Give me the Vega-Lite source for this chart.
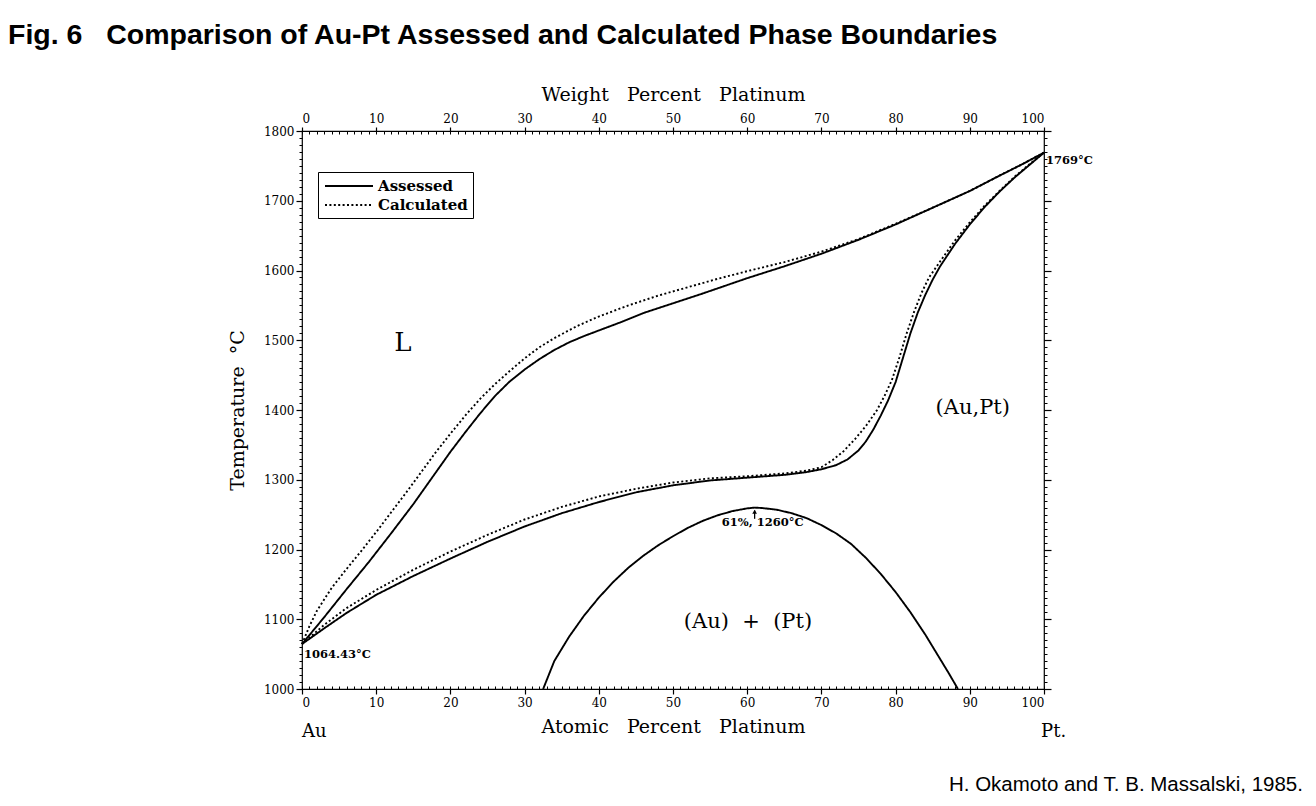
{
  "$schema": "https://vega.github.io/schema/vega-lite/v6.json",
  "width": 742,
  "height": 558,
  "autosize": {"type": "none"},
  "padding": {"left": 302, "top": 131, "right": 272, "bottom": 117},
  "background": "white",
  "config": {
    "view": {"stroke": "black", "strokeWidth": 1.2},
    "font": "DejaVu Serif",
    "axis": {
      "domain": false,
      "grid": false,
      "tickColor": "black",
      "labelColor": "black",
      "titleColor": "black",
      "labelFont": "DejaVu Serif",
      "titleFont": "DejaVu Serif",
      "labelFontSize": 12,
      "titleFontSize": 19,
      "titleFontWeight": "normal"
    }
  },
  "title": {
    "text": "Fig. 6\u00a0\u00a0\u00a0Comparison of Au-Pt Assessed and Calculated Phase Boundaries",
    "anchor": "start",
    "frame": "group",
    "font": "Liberation Sans",
    "fontSize": 28.5,
    "fontWeight": "bold",
    "color": "black",
    "dx": -294,
    "offset": 36
  },
  "resolve": {"axis": {"x": "independent", "y": "independent"}},
  "layer": [
    {
      "data": {
        "values": [
          {"curve": "liquidus-a", "method": "Assessed", "pct": 0, "temp": 1064.43},
          {"curve": "liquidus-a", "method": "Assessed", "pct": 3, "temp": 1103},
          {"curve": "liquidus-a", "method": "Assessed", "pct": 6, "temp": 1143},
          {"curve": "liquidus-a", "method": "Assessed", "pct": 9, "temp": 1182},
          {"curve": "liquidus-a", "method": "Assessed", "pct": 12, "temp": 1223},
          {"curve": "liquidus-a", "method": "Assessed", "pct": 15, "temp": 1265},
          {"curve": "liquidus-a", "method": "Assessed", "pct": 18, "temp": 1310},
          {"curve": "liquidus-a", "method": "Assessed", "pct": 20, "temp": 1340},
          {"curve": "liquidus-a", "method": "Assessed", "pct": 22, "temp": 1368},
          {"curve": "liquidus-a", "method": "Assessed", "pct": 24, "temp": 1395},
          {"curve": "liquidus-a", "method": "Assessed", "pct": 26, "temp": 1420},
          {"curve": "liquidus-a", "method": "Assessed", "pct": 28, "temp": 1441},
          {"curve": "liquidus-a", "method": "Assessed", "pct": 30, "temp": 1458},
          {"curve": "liquidus-a", "method": "Assessed", "pct": 32, "temp": 1473},
          {"curve": "liquidus-a", "method": "Assessed", "pct": 34, "temp": 1486},
          {"curve": "liquidus-a", "method": "Assessed", "pct": 36, "temp": 1497},
          {"curve": "liquidus-a", "method": "Assessed", "pct": 38, "temp": 1506},
          {"curve": "liquidus-a", "method": "Assessed", "pct": 40, "temp": 1514},
          {"curve": "liquidus-a", "method": "Assessed", "pct": 43, "temp": 1526},
          {"curve": "liquidus-a", "method": "Assessed", "pct": 46, "temp": 1539},
          {"curve": "liquidus-a", "method": "Assessed", "pct": 50, "temp": 1553},
          {"curve": "liquidus-a", "method": "Assessed", "pct": 54, "temp": 1567},
          {"curve": "liquidus-a", "method": "Assessed", "pct": 57, "temp": 1578},
          {"curve": "liquidus-a", "method": "Assessed", "pct": 60, "temp": 1589},
          {"curve": "liquidus-a", "method": "Assessed", "pct": 65, "temp": 1606},
          {"curve": "liquidus-a", "method": "Assessed", "pct": 70, "temp": 1624},
          {"curve": "liquidus-a", "method": "Assessed", "pct": 75, "temp": 1644},
          {"curve": "liquidus-a", "method": "Assessed", "pct": 80, "temp": 1666},
          {"curve": "liquidus-a", "method": "Assessed", "pct": 85, "temp": 1690},
          {"curve": "liquidus-a", "method": "Assessed", "pct": 90, "temp": 1714},
          {"curve": "liquidus-a", "method": "Assessed", "pct": 94, "temp": 1736},
          {"curve": "liquidus-a", "method": "Assessed", "pct": 97, "temp": 1752},
          {"curve": "liquidus-a", "method": "Assessed", "pct": 100, "temp": 1769},

          {"curve": "liquidus-c", "method": "Calculated", "pct": 0, "temp": 1064.43},
          {"curve": "liquidus-c", "method": "Calculated", "pct": 1, "temp": 1090},
          {"curve": "liquidus-c", "method": "Calculated", "pct": 2, "temp": 1112},
          {"curve": "liquidus-c", "method": "Calculated", "pct": 4, "temp": 1145},
          {"curve": "liquidus-c", "method": "Calculated", "pct": 6, "temp": 1172},
          {"curve": "liquidus-c", "method": "Calculated", "pct": 8, "temp": 1198},
          {"curve": "liquidus-c", "method": "Calculated", "pct": 10, "temp": 1225},
          {"curve": "liquidus-c", "method": "Calculated", "pct": 12, "temp": 1253},
          {"curve": "liquidus-c", "method": "Calculated", "pct": 14, "temp": 1281},
          {"curve": "liquidus-c", "method": "Calculated", "pct": 16, "temp": 1310},
          {"curve": "liquidus-c", "method": "Calculated", "pct": 18, "temp": 1339},
          {"curve": "liquidus-c", "method": "Calculated", "pct": 20, "temp": 1366},
          {"curve": "liquidus-c", "method": "Calculated", "pct": 22, "temp": 1392},
          {"curve": "liquidus-c", "method": "Calculated", "pct": 24, "temp": 1416},
          {"curve": "liquidus-c", "method": "Calculated", "pct": 26, "temp": 1437},
          {"curve": "liquidus-c", "method": "Calculated", "pct": 28, "temp": 1456},
          {"curve": "liquidus-c", "method": "Calculated", "pct": 30, "temp": 1474},
          {"curve": "liquidus-c", "method": "Calculated", "pct": 32, "temp": 1490},
          {"curve": "liquidus-c", "method": "Calculated", "pct": 34, "temp": 1503},
          {"curve": "liquidus-c", "method": "Calculated", "pct": 37, "temp": 1520},
          {"curve": "liquidus-c", "method": "Calculated", "pct": 40, "temp": 1534},
          {"curve": "liquidus-c", "method": "Calculated", "pct": 44, "temp": 1550},
          {"curve": "liquidus-c", "method": "Calculated", "pct": 48, "temp": 1564},
          {"curve": "liquidus-c", "method": "Calculated", "pct": 52, "temp": 1576},
          {"curve": "liquidus-c", "method": "Calculated", "pct": 56, "temp": 1588},
          {"curve": "liquidus-c", "method": "Calculated", "pct": 60, "temp": 1599},
          {"curve": "liquidus-c", "method": "Calculated", "pct": 65, "temp": 1612},
          {"curve": "liquidus-c", "method": "Calculated", "pct": 70, "temp": 1627},
          {"curve": "liquidus-c", "method": "Calculated", "pct": 75, "temp": 1645},
          {"curve": "liquidus-c", "method": "Calculated", "pct": 80, "temp": 1667},
          {"curve": "liquidus-c", "method": "Calculated", "pct": 85, "temp": 1690},
          {"curve": "liquidus-c", "method": "Calculated", "pct": 90, "temp": 1714},
          {"curve": "liquidus-c", "method": "Calculated", "pct": 94, "temp": 1736},
          {"curve": "liquidus-c", "method": "Calculated", "pct": 97, "temp": 1752},
          {"curve": "liquidus-c", "method": "Calculated", "pct": 100, "temp": 1769},

          {"curve": "solidus-a", "method": "Assessed", "pct": 0, "temp": 1064.43},
          {"curve": "solidus-a", "method": "Assessed", "pct": 3, "temp": 1087},
          {"curve": "solidus-a", "method": "Assessed", "pct": 6, "temp": 1109},
          {"curve": "solidus-a", "method": "Assessed", "pct": 10, "temp": 1135},
          {"curve": "solidus-a", "method": "Assessed", "pct": 15, "temp": 1162},
          {"curve": "solidus-a", "method": "Assessed", "pct": 20, "temp": 1187},
          {"curve": "solidus-a", "method": "Assessed", "pct": 25, "temp": 1211},
          {"curve": "solidus-a", "method": "Assessed", "pct": 30, "temp": 1233},
          {"curve": "solidus-a", "method": "Assessed", "pct": 35, "temp": 1252},
          {"curve": "solidus-a", "method": "Assessed", "pct": 40, "temp": 1268},
          {"curve": "solidus-a", "method": "Assessed", "pct": 45, "temp": 1282},
          {"curve": "solidus-a", "method": "Assessed", "pct": 50, "temp": 1292},
          {"curve": "solidus-a", "method": "Assessed", "pct": 55, "temp": 1299},
          {"curve": "solidus-a", "method": "Assessed", "pct": 60, "temp": 1303},
          {"curve": "solidus-a", "method": "Assessed", "pct": 65, "temp": 1307},
          {"curve": "solidus-a", "method": "Assessed", "pct": 68, "temp": 1311},
          {"curve": "solidus-a", "method": "Assessed", "pct": 70, "temp": 1315},
          {"curve": "solidus-a", "method": "Assessed", "pct": 72, "temp": 1321},
          {"curve": "solidus-a", "method": "Assessed", "pct": 73.5, "temp": 1329},
          {"curve": "solidus-a", "method": "Assessed", "pct": 75, "temp": 1342},
          {"curve": "solidus-a", "method": "Assessed", "pct": 76, "temp": 1355},
          {"curve": "solidus-a", "method": "Assessed", "pct": 77, "temp": 1372},
          {"curve": "solidus-a", "method": "Assessed", "pct": 78, "temp": 1392},
          {"curve": "solidus-a", "method": "Assessed", "pct": 79, "temp": 1414},
          {"curve": "solidus-a", "method": "Assessed", "pct": 80, "temp": 1440},
          {"curve": "solidus-a", "method": "Assessed", "pct": 81, "temp": 1475},
          {"curve": "solidus-a", "method": "Assessed", "pct": 82, "temp": 1510},
          {"curve": "solidus-a", "method": "Assessed", "pct": 83, "temp": 1540},
          {"curve": "solidus-a", "method": "Assessed", "pct": 84, "temp": 1565},
          {"curve": "solidus-a", "method": "Assessed", "pct": 85, "temp": 1587},
          {"curve": "solidus-a", "method": "Assessed", "pct": 86, "temp": 1606},
          {"curve": "solidus-a", "method": "Assessed", "pct": 88, "temp": 1638},
          {"curve": "solidus-a", "method": "Assessed", "pct": 90, "temp": 1666},
          {"curve": "solidus-a", "method": "Assessed", "pct": 92, "temp": 1691},
          {"curve": "solidus-a", "method": "Assessed", "pct": 94, "temp": 1713},
          {"curve": "solidus-a", "method": "Assessed", "pct": 96, "temp": 1733},
          {"curve": "solidus-a", "method": "Assessed", "pct": 98, "temp": 1751},
          {"curve": "solidus-a", "method": "Assessed", "pct": 100, "temp": 1769},

          {"curve": "solidus-c", "method": "Calculated", "pct": 0, "temp": 1064.43},
          {"curve": "solidus-c", "method": "Calculated", "pct": 3, "temp": 1092},
          {"curve": "solidus-c", "method": "Calculated", "pct": 6, "temp": 1116},
          {"curve": "solidus-c", "method": "Calculated", "pct": 10, "temp": 1142},
          {"curve": "solidus-c", "method": "Calculated", "pct": 15, "temp": 1171},
          {"curve": "solidus-c", "method": "Calculated", "pct": 20, "temp": 1197},
          {"curve": "solidus-c", "method": "Calculated", "pct": 25, "temp": 1221},
          {"curve": "solidus-c", "method": "Calculated", "pct": 30, "temp": 1243},
          {"curve": "solidus-c", "method": "Calculated", "pct": 35, "temp": 1261},
          {"curve": "solidus-c", "method": "Calculated", "pct": 40, "temp": 1276},
          {"curve": "solidus-c", "method": "Calculated", "pct": 45, "temp": 1287},
          {"curve": "solidus-c", "method": "Calculated", "pct": 50, "temp": 1296},
          {"curve": "solidus-c", "method": "Calculated", "pct": 55, "temp": 1302},
          {"curve": "solidus-c", "method": "Calculated", "pct": 60, "temp": 1305},
          {"curve": "solidus-c", "method": "Calculated", "pct": 65, "temp": 1309},
          {"curve": "solidus-c", "method": "Calculated", "pct": 68, "temp": 1313},
          {"curve": "solidus-c", "method": "Calculated", "pct": 70, "temp": 1318},
          {"curve": "solidus-c", "method": "Calculated", "pct": 71.5, "temp": 1328},
          {"curve": "solidus-c", "method": "Calculated", "pct": 73, "temp": 1341},
          {"curve": "solidus-c", "method": "Calculated", "pct": 74.5, "temp": 1358},
          {"curve": "solidus-c", "method": "Calculated", "pct": 76, "temp": 1377},
          {"curve": "solidus-c", "method": "Calculated", "pct": 77.5, "temp": 1400},
          {"curve": "solidus-c", "method": "Calculated", "pct": 78.5, "temp": 1420},
          {"curve": "solidus-c", "method": "Calculated", "pct": 79.5, "temp": 1443},
          {"curve": "solidus-c", "method": "Calculated", "pct": 80.5, "temp": 1475},
          {"curve": "solidus-c", "method": "Calculated", "pct": 81.5, "temp": 1510},
          {"curve": "solidus-c", "method": "Calculated", "pct": 82.5, "temp": 1541},
          {"curve": "solidus-c", "method": "Calculated", "pct": 83.5, "temp": 1568},
          {"curve": "solidus-c", "method": "Calculated", "pct": 84.5, "temp": 1590},
          {"curve": "solidus-c", "method": "Calculated", "pct": 86, "temp": 1613},
          {"curve": "solidus-c", "method": "Calculated", "pct": 88, "temp": 1643},
          {"curve": "solidus-c", "method": "Calculated", "pct": 90, "temp": 1669},
          {"curve": "solidus-c", "method": "Calculated", "pct": 92, "temp": 1693},
          {"curve": "solidus-c", "method": "Calculated", "pct": 94, "temp": 1714},
          {"curve": "solidus-c", "method": "Calculated", "pct": 96, "temp": 1734},
          {"curve": "solidus-c", "method": "Calculated", "pct": 98, "temp": 1752},
          {"curve": "solidus-c", "method": "Calculated", "pct": 100, "temp": 1769},

          {"curve": "gap", "method": "Assessed", "pct": 32.5, "temp": 1000},
          {"curve": "gap", "method": "Assessed", "pct": 34, "temp": 1040},
          {"curve": "gap", "method": "Assessed", "pct": 36, "temp": 1075},
          {"curve": "gap", "method": "Assessed", "pct": 38, "temp": 1105},
          {"curve": "gap", "method": "Assessed", "pct": 40, "temp": 1131},
          {"curve": "gap", "method": "Assessed", "pct": 42, "temp": 1154},
          {"curve": "gap", "method": "Assessed", "pct": 44, "temp": 1174},
          {"curve": "gap", "method": "Assessed", "pct": 46, "temp": 1191},
          {"curve": "gap", "method": "Assessed", "pct": 48, "temp": 1206},
          {"curve": "gap", "method": "Assessed", "pct": 50, "temp": 1219},
          {"curve": "gap", "method": "Assessed", "pct": 52, "temp": 1231},
          {"curve": "gap", "method": "Assessed", "pct": 54, "temp": 1241},
          {"curve": "gap", "method": "Assessed", "pct": 56, "temp": 1249},
          {"curve": "gap", "method": "Assessed", "pct": 58, "temp": 1255},
          {"curve": "gap", "method": "Assessed", "pct": 60, "temp": 1259},
          {"curve": "gap", "method": "Assessed", "pct": 61, "temp": 1260},
          {"curve": "gap", "method": "Assessed", "pct": 62, "temp": 1259.5},
          {"curve": "gap", "method": "Assessed", "pct": 64, "temp": 1257},
          {"curve": "gap", "method": "Assessed", "pct": 66, "temp": 1252},
          {"curve": "gap", "method": "Assessed", "pct": 68, "temp": 1245},
          {"curve": "gap", "method": "Assessed", "pct": 70, "temp": 1235},
          {"curve": "gap", "method": "Assessed", "pct": 72, "temp": 1223},
          {"curve": "gap", "method": "Assessed", "pct": 74, "temp": 1208},
          {"curve": "gap", "method": "Assessed", "pct": 76, "temp": 1188},
          {"curve": "gap", "method": "Assessed", "pct": 78, "temp": 1165},
          {"curve": "gap", "method": "Assessed", "pct": 80, "temp": 1139},
          {"curve": "gap", "method": "Assessed", "pct": 82, "temp": 1110},
          {"curve": "gap", "method": "Assessed", "pct": 84, "temp": 1078},
          {"curve": "gap", "method": "Assessed", "pct": 86, "temp": 1043},
          {"curve": "gap", "method": "Assessed", "pct": 87.2, "temp": 1022},
          {"curve": "gap", "method": "Assessed", "pct": 88.4, "temp": 1000}
        ]
      },
      "mark": {"type": "line", "color": "black", "strokeWidth": 1.9},
      "encoding": {
        "x": {
          "field": "pct", "type": "quantitative",
          "scale": {"domain": [0, 100], "nice": false, "zero": false},
          "axis": {
            "orient": "bottom",
            "values": [0, 10, 20, 30, 40, 50, 60, 70, 80, 90, 100],
            "tickSize": 5, "tickWidth": 1.2, "labelPadding": 3,
            "title": "Atomic\u00a0\u00a0\u00a0Percent\u00a0\u00a0\u00a0Platinum",
            "titlePadding": 9
          }
        },
        "y": {
          "field": "temp", "type": "quantitative",
          "scale": {"domain": [1000, 1800], "nice": false, "zero": false},
          "axis": {
            "orient": "left",
            "values": [1000, 1100, 1200, 1300, 1400, 1500, 1600, 1700, 1800],
            "format": "d",
            "tickSize": 6, "tickWidth": 1.2, "labelPadding": 2,
            "title": "Temperature\u00a0\u00a0°C",
            "titlePadding": 16
          }
        },
        "detail": {"field": "curve"},
        "strokeDash": {
          "field": "method", "type": "nominal",
          "scale": {"domain": ["Assessed", "Calculated"], "range": [[1, 0], [2, 2.4]]},
          "legend": {
            "title": null,
            "orient": "none",
            "legendX": 16,
            "legendY": 41,
            "direction": "vertical",
            "strokeColor": "black",
            "fillColor": "white",
            "padding": 5,
            "rowPadding": 2,
            "symbolType": "M-3,0H3",
            "symbolSize": 256,
            "symbolStrokeWidth": 1.8,
            "symbolStrokeColor": "black",
            "symbolOffset": 17,
            "labelOffset": 20,
            "labelFont": "DejaVu Serif",
            "labelFontWeight": "bold",
            "labelFontSize": 15,
            "labelColor": "black"
          }
        }
      }
    },
    {
      "data": {
        "values": [
          {"label": "(Au,Pt)", "pct": 90.4, "temp": 1403},
          {"label": "(Au)\u00a0\u00a0+\u00a0\u00a0(Pt)", "pct": 60.1, "temp": 1096}
        ]
      },
      "mark": {"type": "text", "font": "DejaVu Serif", "fontSize": 21, "color": "black", "align": "center", "baseline": "middle"},
      "encoding": {
        "x": {
          "field": "pct", "type": "quantitative",
          "axis": {
            "orient": "top",
            "values": [0, 10, 20, 30, 40, 50, 60, 70, 80, 90, 100],
            "tickSize": 4, "tickWidth": 1.2, "labelPadding": 2,
            "title": "Weight\u00a0\u00a0\u00a0Percent\u00a0\u00a0\u00a0Platinum",
            "titlePadding": 8
          }
        },
        "y": {
          "field": "temp", "type": "quantitative",
          "axis": {
            "orient": "right",
            "values": [1000, 1100, 1200, 1300, 1400, 1500, 1600, 1700, 1800],
            "tickSize": 7, "tickWidth": 1.2, "labels": false, "title": null
          }
        },
        "text": {"field": "label"}
      }
    },
    {
      "data": {"values": [{"label": "L", "pct": 13.6, "temp": 1496}]},
      "mark": {"type": "text", "font": "DejaVu Serif", "fontSize": 26, "color": "black", "align": "center", "baseline": "middle"},
      "encoding": {
        "x": {
          "field": "pct", "type": "quantitative",
          "axis": {"orient": "bottom", "tickCount": 100, "tickSize": -3, "tickWidth": 1, "labels": false, "title": null}
        },
        "y": {
          "field": "temp", "type": "quantitative",
          "axis": {"orient": "left", "tickCount": 80, "tickSize": 3, "tickWidth": 1, "labels": false, "title": null}
        },
        "text": {"field": "label"}
      }
    },
    {
      "data": {
        "values": [
          {"label": "Au", "pct": 0, "temp": 938},
          {"label": "Pt.", "pct": 99.6, "temp": 938}
        ]
      },
      "mark": {"type": "text", "font": "DejaVu Serif", "fontSize": 18, "color": "black", "align": "left", "baseline": "middle"},
      "encoding": {
        "x": {
          "field": "pct", "type": "quantitative",
          "axis": {"orient": "top", "tickCount": 100, "tickSize": -3, "tickWidth": 1, "labels": false, "title": null}
        },
        "y": {
          "field": "temp", "type": "quantitative",
          "axis": {"orient": "right", "tickCount": 80, "tickSize": 3, "tickWidth": 1, "labels": false, "title": null}
        },
        "text": {"field": "label"}
      }
    },
    {
      "data": {
        "values": [
          {"label": "1064.43°C", "pct": 0, "temp": 1049},
          {"label": "1769°C", "pct": 100, "temp": 1757},
          {"label": "61%, 1260°C", "pct": 56.3, "temp": 1238}
        ]
      },
      "mark": {"type": "text", "font": "DejaVu Serif", "fontSize": 11.5, "fontWeight": "bold", "color": "black", "align": "left", "baseline": "middle", "dx": 2},
      "encoding": {
        "x": {"field": "pct", "type": "quantitative", "axis": null},
        "y": {"field": "temp", "type": "quantitative", "axis": null},
        "text": {"field": "label"}
      }
    },
    {
      "data": {"values": [{"pct": 61, "from": 1244, "to": 1256}]},
      "mark": {"type": "rule", "color": "black", "strokeWidth": 1.3},
      "encoding": {
        "x": {"field": "pct", "type": "quantitative", "axis": null},
        "y": {"field": "from", "type": "quantitative", "axis": null},
        "y2": {"field": "to"}
      }
    },
    {
      "data": {"values": [{"pct": 61, "temp": 1254}]},
      "mark": {"type": "point", "shape": "triangle-up", "filled": true, "color": "black", "size": 22, "opacity": 1},
      "encoding": {
        "x": {"field": "pct", "type": "quantitative", "axis": null},
        "y": {"field": "temp", "type": "quantitative", "axis": null}
      }
    },
    {
      "data": {"values": [{"label": "H. Okamoto and T. B. Massalski, 1985.", "pct": 134.9, "temp": 862}]},
      "mark": {"type": "text", "font": "Liberation Sans", "fontSize": 20.5, "color": "black", "align": "right", "baseline": "middle"},
      "encoding": {
        "x": {"field": "pct", "type": "quantitative", "axis": null},
        "y": {"field": "temp", "type": "quantitative", "axis": null},
        "text": {"field": "label"}
      }
    }
  ]
}
